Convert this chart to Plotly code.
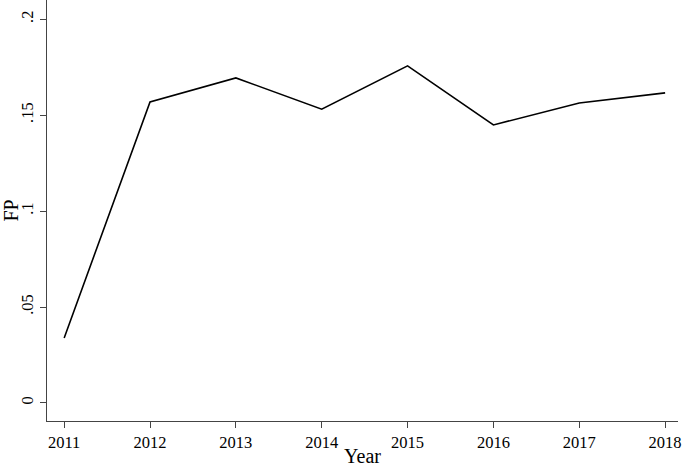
import plotly.graph_objects as go

years = [2011, 2012, 2013, 2014, 2015, 2016, 2017, 2018]
fp = [0.0339, 0.1569, 0.1694, 0.1531, 0.1757, 0.1449, 0.1563, 0.1616]

y_ticks = [0, 0.05, 0.1, 0.15, 0.2]
y_labels = ["0", ".05", ".1", ".15", ".2"]

font = dict(family="Liberation Serif, Times New Roman, serif", size=16.5, color="black")

fig = go.Figure(go.Scatter(x=years, y=fp, mode="lines",
                           line=dict(color="black", width=1.6)))

fig.update_layout(
    width=685, height=467,
    margin=dict(l=47, r=7, t=0, b=46, autoexpand=False),
    plot_bgcolor="white", paper_bgcolor="white",
    showlegend=False,
    font=font,
)
fig.update_xaxes(
    range=[2010.80, 2018.15], tickvals=years,
    showgrid=False, zeroline=False,
    showline=True, linecolor="#444", linewidth=1.2,
    ticks="outside", ticklen=6, tickcolor="#444",
    title=dict(text="Year", standoff=2),
    automargin=False,
)
fig.update_yaxes(
    range=[-0.0094, 0.21], tickvals=y_ticks, ticktext=y_labels,
    tickangle=-90,
    showgrid=False, zeroline=False,
    showline=True, linecolor="#444", linewidth=1.2,
    ticks="outside", ticklen=6, tickcolor="#444",
    title=dict(text="FP", standoff=5),
    automargin=False,
)

fig.write_html("out.html", config={"displayModeBar": False},
               post_script="document.body.style.margin='0';")
